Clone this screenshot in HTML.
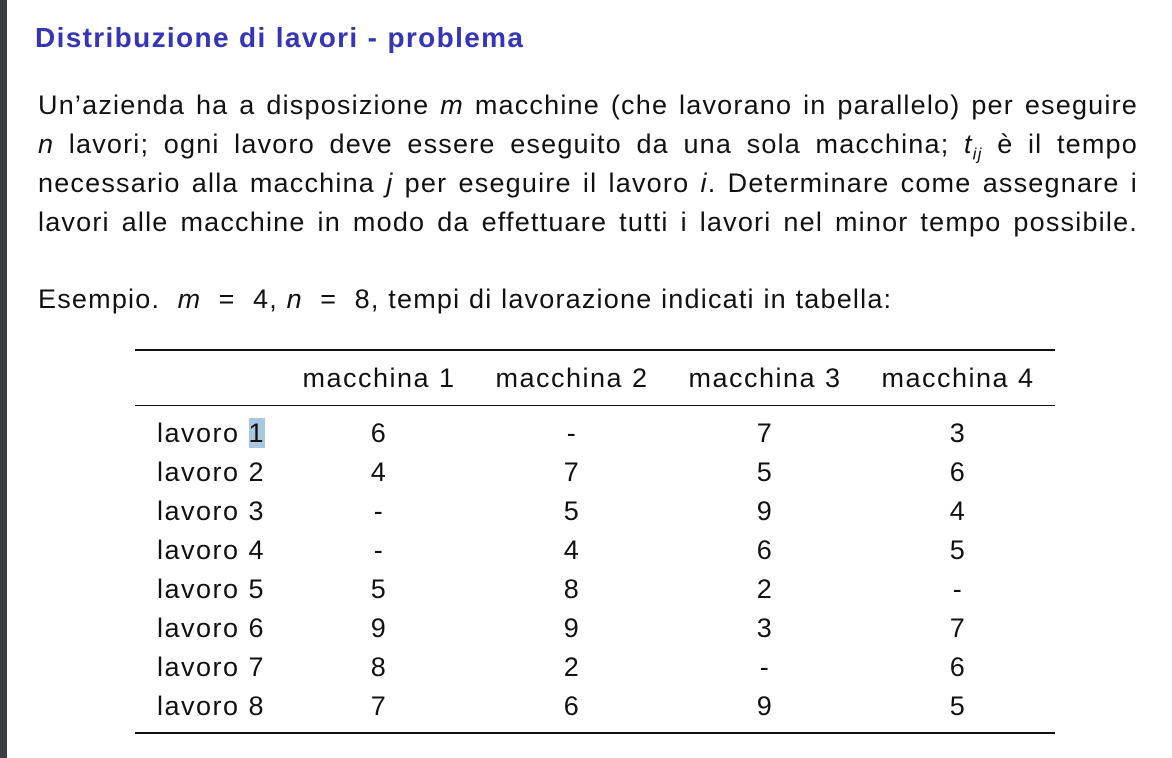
<!DOCTYPE html>
<html><head><meta charset="utf-8"><style>
body{margin:0;width:1172px;height:758px;background:#fff;position:relative;overflow:hidden;font-family:"Liberation Sans",sans-serif;color:#111}
.bar{position:absolute;left:0;top:0;width:7px;height:758px;background:#3c3f41}
.t{position:absolute;left:35px;top:22px;font-size:28px;letter-spacing:1.35px;font-weight:bold;color:#3535b5}
.l{position:absolute;left:38px;width:1100px;font-size:27px;letter-spacing:1.2px;white-space:nowrap;text-align:justify;text-align-last:justify}
.r{position:absolute;left:135px;width:920px;background:#111}
.c{position:absolute;font-size:27px;letter-spacing:1.5px;white-space:nowrap;transform:translateX(-50%)}
.h{position:absolute;font-size:27px;letter-spacing:1.5px;white-space:nowrap;left:157px}
</style></head><body>
<div class="bar"></div>
<div class="t">Distribuzione di lavori - problema</div>
<div class="l" style="top:90px">Un’azienda ha a disposizione <i>m</i> macchine (che lavorano in parallelo) per eseguire</div>
<div class="l" style="top:129px"><i>n</i> lavori; ogni lavoro deve essere eseguito da una sola macchina; <i>t<sub style="font-size:17px">ij</sub></i> è il tempo</div>
<div class="l" style="top:168px">necessario alla macchina <i>j</i> per eseguire il lavoro <i>i</i>. Determinare come assegnare i</div>
<div class="l" style="top:207px">lavori alle macchine in modo da effettuare tutti i lavori nel minor tempo possibile.</div>
<div class="l" style="top:284px;text-align-last:left;width:auto">Esempio. &nbsp;<i>m</i> &nbsp;= &nbsp;4, <i>n</i> &nbsp;= &nbsp;8, tempi di lavorazione indicati in tabella:</div>
<div class="r" style="top:349px;height:2px"></div>
<div class="r" style="top:405px;height:1px"></div>
<div class="r" style="top:732px;height:2px"></div>
<div class="c" style="left:379px;top:363px">macchina 1</div>
<div class="c" style="left:572px;top:363px">macchina 2</div>
<div class="c" style="left:765px;top:363px">macchina 3</div>
<div class="c" style="left:958px;top:363px">macchina 4</div>
<div id="rows"></div>
<script>
var d=[["6","-","7","3"],["4","7","5","6"],["-","5","9","4"],["-","4","6","5"],["5","8","2","-"],["9","9","3","7"],["8","2","-","6"],["7","6","9","5"]];
var xs=[379,572,765,958],h="";
d.forEach(function(r,i){var y=418+i*39;
h+='<div class="h" style="top:'+y+'px">lavoro '+(i==0?'<span style="background:#a9c8e0">1</span>':(i+1))+'</div>';
r.forEach(function(v,j){h+='<div class="c" style="left:'+xs[j]+'px;top:'+y+'px">'+v+'</div>';});});
document.getElementById("rows").innerHTML=h;
</script>
</body></html>
